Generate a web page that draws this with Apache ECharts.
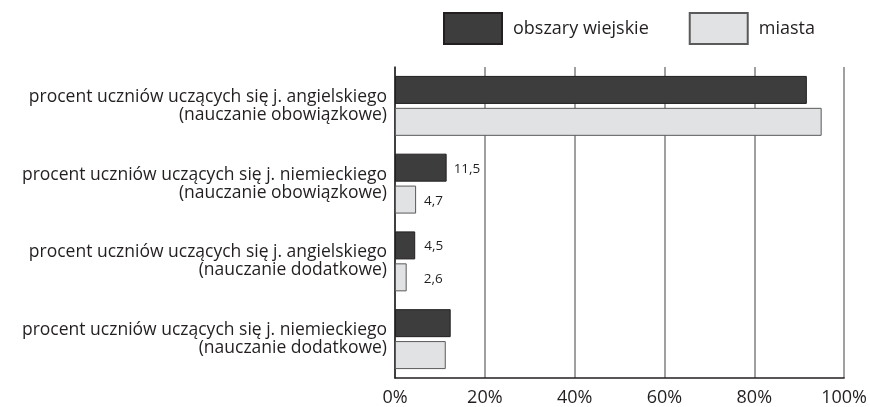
<!DOCTYPE html>
<html lang="pl">
<head>
<meta charset="UTF-8">
<title>Uczniowie uczący się języków</title>
<script src="https://cdn.jsdelivr.net/npm/echarts@6/dist/echarts.min.js"></script>
<style>
  html, body { margin: 0; padding: 0; background: #fff; }
</style>
</head>
<body>
<div id="main" style="width:870px;height:407px;"></div>
<script>
// kategorie (od góry)
var categories = [
    'procent uczniów uczących się j. angielskiego\n(nauczanie obowiązkowe)',
    'procent uczniów uczących się j. niemieckiego\n(nauczanie obowiązkowe)',
    'procent uczniów uczących się j. angielskiego\n(nauczanie dodatkowe)',
    'procent uczniów uczących się j. niemieckiego\n(nauczanie dodatkowe)'
];
var wiejskie = [91.7, 11.5, 4.5, 12.4];
var miasta = [95.0, 4.7, 2.6, 11.3];
// etykiety wartości pokazane tylko dla środkowych kategorii
var showLabel = [false, true, true, false];
var xTicks = [0, 20, 40, 60, 80, 100];

var font = '"Open Sans", "Noto Sans", sans-serif';

function fmt(p) { return String(p.value).replace('.', ','); }

function withLabels(values, dist) {
    return values.map(function (v, i) {
        return { value: v, label: { show: showLabel[i], distance: dist[i] } };
    });
}

var myChart = echarts.init(document.getElementById('main'));
myChart.setOption({
    animation: false,
    textStyle: { fontFamily: font },
    legend: {
        left: 443,
        top: 12,
        padding: 0,
        icon: 'rect',
        itemWidth: 58,
        itemHeight: 31,
        itemGap: 40,
        textStyle: { fontSize: 18, color: '#231f20', fontFamily: font, padding: [0, 0, 0, 6] },
        data: ['obszary wiejskie', 'miasta']
    },
    grid: { left: 395, right: 25, top: 67, bottom: 28, containLabel: false },
    xAxis: {
        type: 'value',
        min: xTicks[0],
        max: xTicks[xTicks.length - 1],
        interval: 20,
        axisLine: { show: true, lineStyle: { color: '#231f20', width: 1.5 } },
        axisTick: { show: false },
        axisLabel: { formatter: '{value}%', fontSize: 18, color: '#231f20', margin: 11, fontFamily: font },
        splitLine: { show: true, lineStyle: { color: '#808080', width: 1.5 } }
    },
    yAxis: {
        type: 'category',
        inverse: true,
        data: categories,
        axisLine: { show: true, lineStyle: { color: '#231f20', width: 1.5 } },
        axisTick: { show: false },
        axisLabel: { fontSize: 17.5, lineHeight: 18, color: '#231f20', margin: 8, align: 'right', fontFamily: font }
    },
    series: [
        {
            name: 'obszary wiejskie',
            type: 'bar',
            barWidth: 28,
            barGap: '14%',
            data: withLabels(wiejskie, [7, 7, 9, 7]),
            itemStyle: { color: '#3d3d3d', borderColor: '#231f20', borderWidth: 1 },
            label: { position: 'right', fontSize: 13.5, color: '#231f20', offset: [0, 1], formatter: fmt }
        },
        {
            name: 'miasta',
            type: 'bar',
            barWidth: 28,
            data: withLabels(miasta, [8, 8, 17, 8]),
            itemStyle: { color: '#e1e2e4', borderColor: '#5a5a5a', borderWidth: 1 },
            label: { position: 'right', fontSize: 13.5, color: '#231f20', offset: [0, 2], formatter: fmt }
        }
    ]
});
</script>
</body>
</html>
